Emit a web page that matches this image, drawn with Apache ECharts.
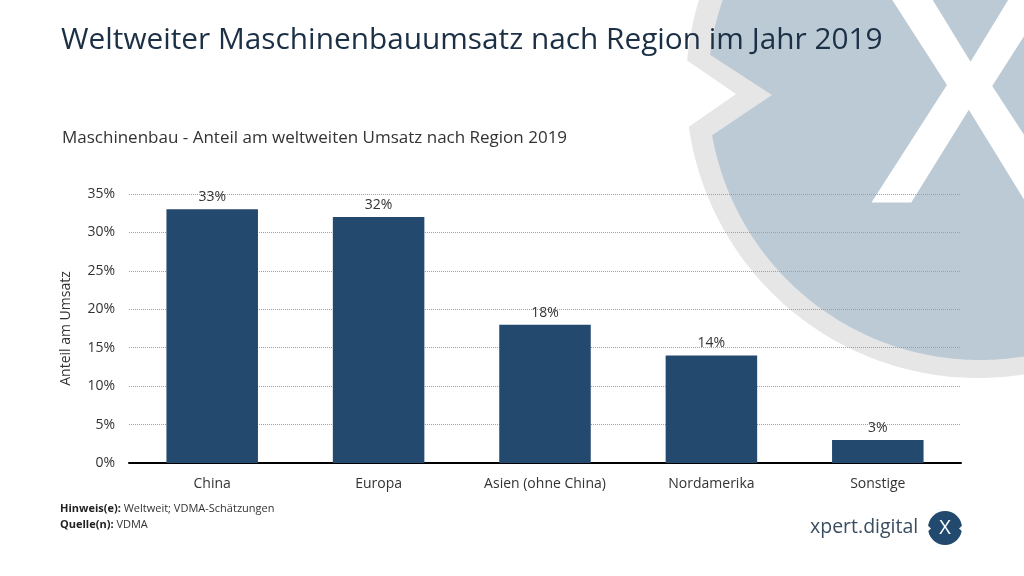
<!DOCTYPE html>
<html><head><meta charset="utf-8">
<script src="https://cdn.jsdelivr.net/npm/echarts@6/dist/echarts.min.js"></script>
<style>html,body{margin:0;padding:0;background:#fff}#c{width:1024px;height:576px}</style>
</head><body><div id="c"></div>
<script>
const categories = ['China', 'Europa', 'Asien (ohne China)', 'Nordamerika', 'Sonstige'];
const shareValues = [33, 32, 18, 14, 3];
const yTicks = [0, 5, 10, 15, 20, 25, 30, 35];
const titleText = 'Weltweiter Maschinenbauumsatz nach Region im Jahr 2019';
const subtitleText = 'Maschinenbau - Anteil am weltweiten Umsatz nach Region 2019';
const yAxisName = 'Anteil am Umsatz';
const noteLabel = 'Hinweis(e):', noteText = ' Weltweit; VDMA-Schätzungen';
const sourceLabel = 'Quelle(n):', sourceText = ' VDMA';
const brandText = 'xpert.digital';

const FONT = "'Open Sans', 'Noto Sans', sans-serif";

function notchedCircle(cx, cy, r, tipX, tipY, yTop, yBot) {
  const pts = []; let inserted = false;
  for (let i = 0; i < 360; i++) {
    const a = i * Math.PI / 180;
    const x = cx + r * Math.cos(a), y = cy + r * Math.sin(a);
    if (x < cx && y > yTop && y < yBot) {
      if (!inserted) { pts.push([tipX, tipY]); inserted = true; }
      continue;
    }
    pts.push([x, y]);
  }
  return pts;
}

const chart = echarts.init(document.getElementById('c'), null, { renderer: 'canvas' });
chart.setOption({
  backgroundColor: '#ffffff',
  animation: false,
  graphic: [
    { type: 'polygon', z: -10, silent: true, shape: { points: notchedCircle(978, 86, 292, 736, 94, 61, 125) }, style: { fill: '#e6e6e6' } },
    { type: 'polygon', z: -9, silent: true, shape: { points: notchedCircle(980, 88, 272, 772, 95, 57, 133) }, style: { fill: '#bccad6' } },
    { type: 'text', z: -8, silent: true, x: 970, y: 112, style: { text: 'X', font: "600 318px 'Open Sans'", fill: '#ffffff', align: 'center', verticalAlign: 'middle' } },
    { type: 'text', x: 61, y: 41, style: { text: titleText, font: "29.8px " + FONT, fill: '#1b2f45', verticalAlign: 'middle' } },
    { type: 'text', x: 62, y: 138, style: { text: subtitleText, font: "17px " + FONT, fill: '#333333', verticalAlign: 'middle' } },
    { type: 'text', x: 60, y: 509, style: { text: '{b|' + noteLabel + '}' + noteText, font: "11px " + FONT, fill: '#333333', verticalAlign: 'middle', rich: { b: { fontWeight: 'bold', fontSize: 11, fontFamily: FONT, fill: '#222' } } } },
    { type: 'text', x: 60, y: 525, style: { text: '{b|' + sourceLabel + '}' + sourceText, font: "11px " + FONT, fill: '#333333', verticalAlign: 'middle', rich: { b: { fontWeight: 'bold', fontSize: 11, fontFamily: FONT, fill: '#222' } } } },
    { type: 'text', x: 810, y: 527, style: { text: brandText, font: "19.5px " + FONT, fill: '#3b4d60', verticalAlign: 'middle' } },
    { type: 'circle', shape: { cx: 945, cy: 528, r: 17 }, style: { fill: '#224a6e' } },
    { type: 'polygon', shape: { points: [[926, 524], [931, 528.5], [926, 533]] }, style: { fill: '#ffffff' } },
    { type: 'polygon', shape: { points: [[964, 524], [959, 528.5], [964, 533]] }, style: { fill: '#ffffff' } },
    { type: 'text', x: 945, y: 528, style: { text: 'X', font: "20px " + FONT, fill: '#ffffff', align: 'center', verticalAlign: 'middle' } }
  ],
  grid: { left: 129, right: 63, top: 194, bottom: 113, containLabel: false },
  xAxis: {
    type: 'category',
    data: categories,
    axisLine: { lineStyle: { color: '#000', width: 2 } },
    axisTick: { show: false },
    axisLabel: { color: '#333', fontSize: 14, fontFamily: FONT, margin: 14 }
  },
  yAxis: {
    type: 'value',
    min: yTicks[0],
    max: yTicks[yTicks.length - 1],
    interval: yTicks[1] - yTicks[0],
    name: yAxisName,
    nameLocation: 'middle',
    nameRotate: 90,
    nameGap: 56,
    nameTextStyle: { color: '#333', fontSize: 14, fontFamily: FONT },
    axisLine: { show: false },
    axisTick: { show: false },
    axisLabel: { color: '#333', fontSize: 14, fontFamily: FONT, margin: 14, formatter: '{value}%' },
    splitLine: { lineStyle: { color: '#a0a0a0', type: 'dotted', width: 1 } }
  },
  series: [{
    type: 'bar',
    data: shareValues,
    barWidth: '55%',
    itemStyle: { color: '#234a6e' },
    label: { show: true, position: 'top', distance: 5, formatter: '{c}%', color: '#333', fontSize: 14, fontFamily: FONT }
  }]
});
</script>
</body></html>
